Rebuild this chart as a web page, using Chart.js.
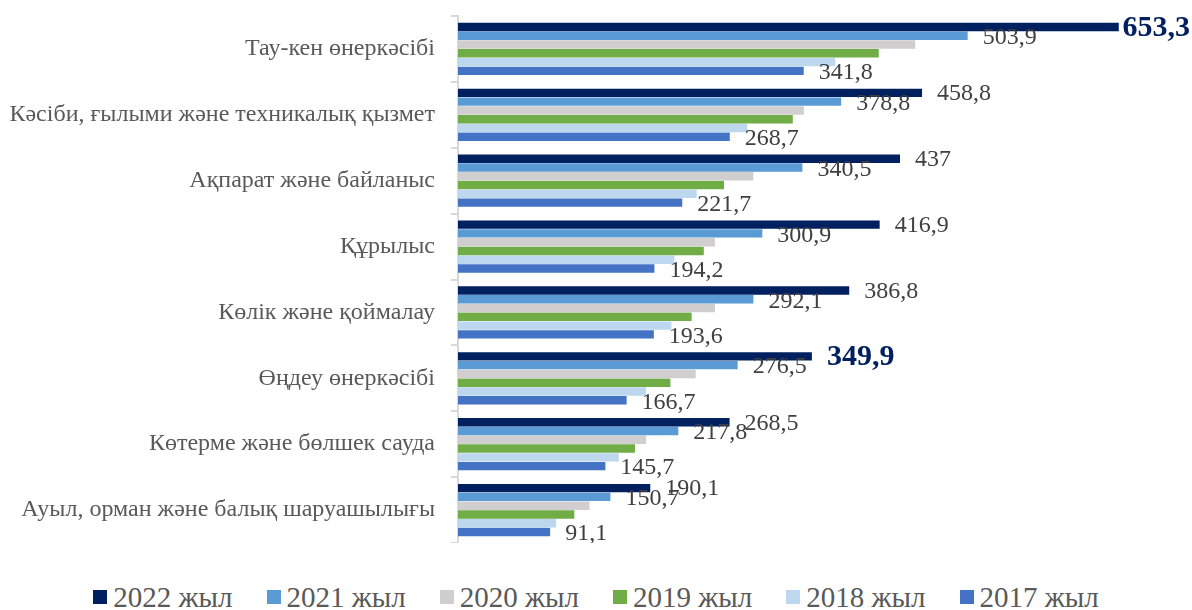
<!DOCTYPE html>
<html>
<head>
<meta charset="utf-8">
<script src="https://cdn.jsdelivr.net/npm/chart.js@4.4.1/dist/chart.umd.min.js"></script>
<style>
  html, body { margin: 0; padding: 0; background: #fff; }
  #wrap { width: 1192px; height: 610px; }
  #legend {
    height: 67px; box-sizing: border-box; padding-top: 40px;
    display: flex; justify-content: center; gap: 34px;
    font-family: "Liberation Serif", "Times New Roman", serif; font-size: 29px; line-height: 30px;
    color: #595959;
  }
  #legend .item { display: flex; align-items: center; gap: 6px; white-space: nowrap; }
  #legend .item i { display: inline-block; width: 14px; height: 14px; }
</style>
</head>
<body>
<div id="wrap">
  <canvas id="chart" width="1192" height="543"></canvas>
  <div id="legend"></div>
</div>
<script>
const categories = [
  "Тау-кен өнеркәсібі",
  "Кәсіби, ғылыми және техникалық қызмет",
  "Ақпарат және байланыс",
  "Құрылыс",
  "Көлік және қоймалау",
  "Өңдеу өнеркәсібі",
  "Көтерме және бөлшек сауда",
  "Ауыл, орман және балық шаруашылығы"
];
const years = ["2022 жыл", "2021 жыл", "2020 жыл", "2019 жыл", "2018 жыл", "2017 жыл"];

const y2022 = [653.3, 458.8, 437, 416.9, 386.8, 349.9, 268.5, 190.1];
const y2021 = [503.9, 378.8, 340.5, 300.9, 292.1, 276.5, 217.8, 150.7];
const y2020 = [452, 342, 292, 254, 254, 235, 186, 130];
const y2019 = [416, 331, 263, 243, 231, 210, 175, 115];
const y2018 = [373, 286, 236, 214, 211, 186, 159, 97];
const y2017 = [341.8, 268.7, 221.7, 194.2, 193.6, 166.7, 145.7, 91.1];

const colors = ["#002060", "#5b9bd5", "#d0cece", "#70ad47", "#bdd7ee", "#4472c4"];

// series that get value labels (2022, 2021, 2017)
const labelled = [0, 1, 5];
// 2022 values written in bold
const highlighted = ["Тау-кен өнеркәсібі", "Өңдеу өнеркәсібі"];

const SERIF = "'Liberation Serif', 'Times New Roman', serif";

const valueLabels = {
  id: "valueLabels",
  afterDatasetsDraw(chart){
    const ctx = chart.ctx;
    ctx.save();
    ctx.textBaseline = "middle";
    ctx.textAlign = "left";
    labelled.forEach(di => {
      const meta = chart.getDatasetMeta(di);
      meta.data.forEach((bar, i) => {
        const v = chart.data.datasets[di].data[i];
        const txt = String(v).replace(".", ",");
        const bold = di === 0 && highlighted.includes(categories[i]);
        ctx.font = bold ? `bold 30px ${SERIF}` : `24px ${SERIF}`;
        ctx.fillStyle = bold ? "#002060" : "#404040";
        const w = ctx.measureText(txt).width;
        let x = bar.x + 15;
        if (x + w > chart.width - 2) x = chart.width - 2 - w; // keep inside the canvas
        const y = bar.y + (di === 0 ? 1 : 2);
        ctx.fillText(txt, x, y);
      });
    });
    ctx.restore();
  }
};

const series = [y2022, y2021, y2020, y2019, y2018, y2017];

new Chart(document.getElementById("chart").getContext("2d"), {
  type: "bar",
  data: {
    labels: categories,
    datasets: series.map((vals, i) => ({
      label: years[i],
      data: vals,
      backgroundColor: colors[i],
      borderWidth: 0,
      barPercentage: 0.96,
      categoryPercentage: 0.8
    }))
  },
  options: {
    indexAxis: "y",
    responsive: false,
    animation: false,
    layout: { padding: { top: 16, right: 26, bottom: 0, left: 0 } },
    scales: {
      x: { display: false, min: 0, max: 700 },
      y: {
        grid: { drawOnChartArea: false, offset: true, tickLength: 7, lineWidth: 2, color: "#d9d9d9" },
        border: { color: "#d9d9d9", width: 2 },
        ticks: { font: { family: SERIF, size: 24 }, color: "#595959", padding: 16 },
        afterFit(scale){
          scale.width = 458;
          scale.paddingTop = 0;
          scale.paddingBottom = 0;
        }
      }
    },
    plugins: {
      tooltip: { enabled: false },
      legend: { display: false }
    }
  },
  plugins: [valueLabels]
});

// legend under the canvas
const legend = document.getElementById("legend");
years.forEach((name, i) => {
  const item = document.createElement("span");
  item.className = "item";
  item.innerHTML = `<i style="background:${colors[i]}"></i>${name}`;
  legend.appendChild(item);
});
</script>
</body>
</html>
